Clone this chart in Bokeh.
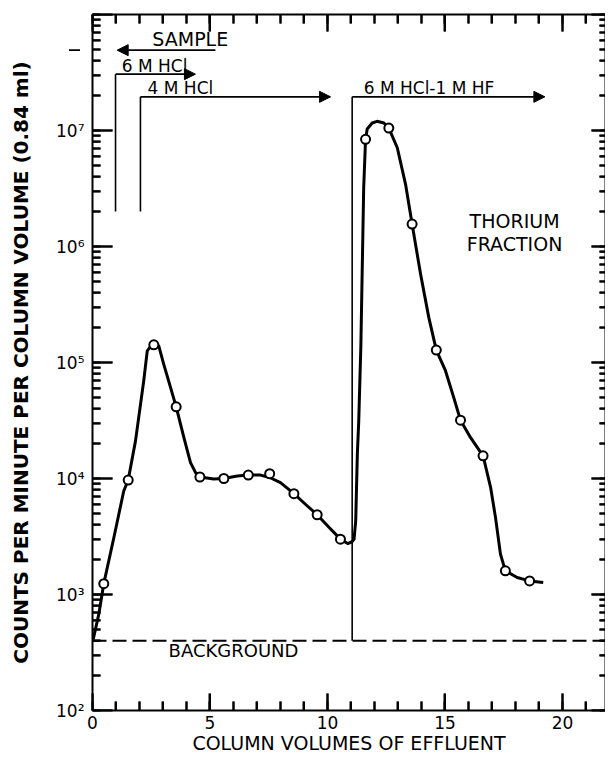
import math
from bokeh.plotting import figure
from bokeh.models import (LinearAxis, LogAxis, Range1d, SingleIntervalTicker, LogTicker,
                          Arrow, NormalHead, Span, ColumnDataSource)
from bokeh.core.properties import value
from bokeh.embed import file_html
from bokeh.resources import INLINE

# ---------------- data ----------------
pts_x = [0.48, 1.52, 2.61, 3.56, 4.57, 5.59, 6.63, 7.54, 8.57, 9.56, 10.55,
         11.62, 12.61, 13.6, 14.63, 15.66, 16.62, 17.57, 18.6]
pts_y = [1.24e3, 9.7e3, 1.42e5, 4.15e4, 1.03e4, 1.0e4, 1.07e4, 1.1e4, 7.4e3, 4.87e3, 3.0e3,
         8.4e6, 1.05e7, 1.56e6, 1.28e5, 3.18e4, 1.57e4, 1.6e3, 1.31e3]

curve_x = [0.03, 0.27, 0.48, 0.91, 1.33, 1.52, 1.83, 2.18, 2.33, 2.54, 2.7, 2.82, 3.03, 3.32,
           3.56, 3.89, 4.17, 4.38, 4.57, 5.16, 5.59, 6.16, 6.63, 7.15, 7.54, 8.0, 8.57, 9.06,
           9.56, 10.06, 10.55, 10.86, 11.05, 11.13, 11.2, 11.27, 11.33, 11.42, 11.54, 11.62,
           11.69, 11.9, 12.11, 12.4, 12.61, 12.97, 13.32, 13.6, 13.96, 14.31, 14.63, 15.02,
           15.37, 15.66, 16.09, 16.62, 16.94, 17.15, 17.36, 17.57, 18.07, 18.6, 19.18]
curve_y = [4.1e2, 6.8e2, 1.24e3, 3.1e3, 7.8e3, 9.7e3, 2.11e4, 6.95e4, 1.26e5, 1.44e5, 1.44e5,
           1.39e5, 9.7e4, 6.1e4, 4.15e4, 2.25e4, 1.37e4, 1.13e4, 1.03e4, 9.9e3, 1.0e4, 1.05e4,
           1.07e4, 1.07e4, 1.02e4, 9.2e3, 7.4e3, 6.0e3, 4.87e3, 3.8e3, 3.0e3, 2.75e3, 2.85e3,
           3.0e3, 4.3e3, 1.62e4, 3.14e4, 1.4e5, 3.2e6, 8.4e6, 1.03e7, 1.16e7, 1.2e7, 1.16e7,
           1.05e7, 7.1e6, 3.45e6, 1.56e6, 5.8e5, 2.45e5, 1.28e5, 8.5e4, 5.0e4, 3.18e4, 2.25e4,
           1.57e4, 8.4e3, 4.6e3, 2.23e3, 1.6e3, 1.4e3, 1.31e3, 1.27e3]

background = 4.0e2

vline_x = [0.98, 2.04, 11.05]
vline_bottom = [2.0e6, 2.0e6, 4.0e2]
vline_top = [3.06e7, 1.95e7, 1.95e7]

arrow_x_start = [5.23, 0.98, 2.04, 11.05, -0.2]
arrow_x_end = [1.05, 4.38, 10.13, 19.25, -1.0]
arrow_y = [4.93e7, 3.06e7, 1.95e7, 1.95e7, 4.93e7]

ann_text = ["SAMPLE", "6 M HCl", "4 M HCl", "6 M HCl-1 M HF", "THORIUM", "FRACTION", "BACKGROUND"]
ann_x = [4.16, 2.64, 3.74, 14.32, 17.96, 17.96, 6.0]
ann_y = [6.1e7, 3.59e7, 2.31e7, 2.31e7, 1.66e6, 1.05e6, 3.27e2]
ann_size = ["19px", "17px", "17px", "17px", "19px", "19px", "18px"]

# axis ticks
X_MIN, X_MAX = 0.0, 21.83
Y_MIN, Y_MAX = 1e2, 1e8
x_major = 5
x_ticks_major = [0.0, 5.0, 10.0, 15.0, 20.0]
x_ticks_minor = [1.0, 2.0, 3.0, 4.0, 6.0, 7.0, 8.0, 9.0, 11.0, 12.0, 13.0, 14.0,
                 16.0, 17.0, 18.0, 19.0, 21.0]
y_ticks_major = [1e2, 1e3, 1e4, 1e5, 1e6, 1e7, 1e8]
y_ticks_minor = [float(k) * 10.0 ** n for n in range(2, 8) for k in range(2, 10)]
y_labels = {100: "10²", 1000: "10³", 10000: "10⁴", 100000: "10⁵",
            1000000: "10⁶", 10000000: "10⁷", 100000000: ""}

# ---------------- figure ----------------
FW, FH = 513, 696
FONT = "DejaVu Sans"
p = figure(frame_width=FW, frame_height=FH,
           x_range=Range1d(X_MIN, X_MAX), y_range=Range1d(Y_MIN, Y_MAX),
           y_axis_type="log", output_backend="svg", toolbar_location=None,
           min_border_left=92, min_border_top=14, min_border_right=0, min_border_bottom=0,
           background_fill_color="white", border_fill_color="white")
p.outline_line_color = None
p.xgrid.visible = False
p.ygrid.visible = False

xa = p.xaxis[0]
xa.ticker = SingleIntervalTicker(interval=x_major, num_minor_ticks=5)
xa.axis_label = "COLUMN VOLUMES OF EFFLUENT"
xa.axis_label_text_font = FONT
xa.axis_label_text_font_style = "normal"
xa.axis_label_text_font_size = "19px"
xa.axis_label_standoff = 0
xa.major_label_text_font = FONT
xa.major_label_text_font_size = "17px"
xa.major_label_standoff = 5

ya = p.yaxis[0]
ya.ticker = LogTicker(num_minor_ticks=10)
ya.major_label_overrides = y_labels
ya.axis_label = "COUNTS PER MINUTE PER COLUMN VOLUME (0.84 ml)"
ya.axis_label_text_font = FONT
ya.axis_label_text_font_style = "bold"
ya.axis_label_text_font_size = "20px"
ya.axis_label_standoff = 20
ya.major_label_text_font = FONT
ya.major_label_text_font_size = "17px"
ya.major_label_standoff = 8

top = LinearAxis(ticker=SingleIntervalTicker(interval=x_major, num_minor_ticks=5),
                 major_label_text_font_size="1px", major_label_text_color=None,
                 major_label_standoff=0)
p.add_layout(top, "above")
right = LogAxis(ticker=LogTicker(num_minor_ticks=10),
                major_label_text_font_size="1px", major_label_text_color=None,
                major_label_standoff=0)
p.add_layout(right, "right")

for ax in (xa, ya, top, right):
    ax.axis_line_width = 2
    ax.axis_line_color = "black"
    ax.major_tick_out = 0
    ax.minor_tick_out = 0
    ax.major_tick_line_color = "black"
    ax.minor_tick_line_color = "black"
    ax.major_tick_line_width = 2
    ax.minor_tick_line_width = 2
    ax.major_label_text_color = "black" if ax in (xa, ya) else None
    ax.axis_label_text_color = "black"
for ax in (xa, top):
    ax.major_tick_in = 17
    ax.minor_tick_in = 9
ya.major_tick_in = 20
ya.minor_tick_in = 8
right.major_tick_in = 14
right.minor_tick_in = 6

# inward tick marks also drawn as segments starting just inside the frame edges;
# lengths in px converted through the frame's own scale
px_x = FW / (X_MAX - X_MIN)                                 # px per x unit
px_dec = FH / (math.log10(Y_MAX) - math.log10(Y_MIN))        # px per decade


def xlen(px):
    return px / px_x


def yfac(px):
    return 10 ** (px / px_dec)


tx0, tx1, ty0, ty1 = [], [], [], []
for xs, L in ((x_ticks_major, 17), (x_ticks_minor, 9)):
    for x in xs:
        tx0 += [x, x]; tx1 += [x, x]
        ty0 += [Y_MIN * yfac(0.5), Y_MAX / yfac(0.5)]
        ty1 += [Y_MIN * yfac(L), Y_MAX / yfac(L)]
for ys, Ll, Lr in ((y_ticks_major, 20, 14), (y_ticks_minor, 8, 6)):
    for y in ys:
        tx0 += [X_MIN + xlen(0.5), X_MAX - xlen(0.5)]
        tx1 += [X_MIN + xlen(Ll), X_MAX - xlen(Lr)]
        ty0 += [y, y]; ty1 += [y, y]
ticks = ColumnDataSource(dict(x0=tx0, y0=ty0, x1=tx1, y1=ty1))
p.segment(x0="x0", y0="y0", x1="x1", y1="y1", source=ticks,
          line_color="black", line_width=2)

p.add_layout(Span(location=background, dimension="width", line_color="black",
                  line_width=2, line_dash="14 6"))

p.segment(x0=vline_x, y0=vline_bottom, x1=vline_x, y1=vline_top,
          line_color="black", line_width=1.6)
for xs, xe, yy in zip(arrow_x_start, arrow_x_end, arrow_y):
    p.add_layout(Arrow(x_start=xs, y_start=yy, x_end=xe, y_end=yy,
                       line_color="black", line_width=1.6,
                       end=NormalHead(size=11, fill_color="black", line_color="black")))

p.line(curve_x, curve_y, line_color="black", line_width=3, line_join="round")
p.scatter(pts_x, pts_y, marker="circle", size=9, fill_color="white",
          line_color="black", line_width=2)

src = ColumnDataSource(dict(x=ann_x, y=ann_y, t=ann_text, s=ann_size))
p.text(x="x", y="y", text="t", source=src, text_font=value(FONT), text_font_size="s",
       text_align="center", text_baseline="middle", text_color="black")

open("out.html", "w").write(file_html(p, INLINE))
